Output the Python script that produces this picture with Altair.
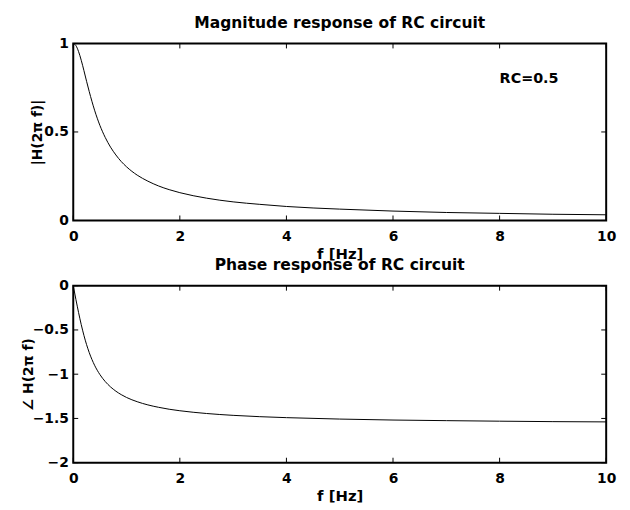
import altair as alt
import pandas as pd

# Frequency samples [Hz]
freq = [0, 0.05, 0.1, 0.15, 0.2, 0.25, 0.3, 0.4, 0.5, 0.6, 0.7, 0.8, 0.9, 1.0,
        1.2, 1.4, 1.6, 1.8, 2.0, 2.5, 3.0, 3.5, 4.0, 5.0, 6.0, 7.0, 8.0, 9.0, 10.0]
# |H(2 pi f)|
magnitude = [1.000, 0.988, 0.954, 0.905, 0.847, 0.786, 0.728, 0.623, 0.537, 0.469,
             0.414, 0.370, 0.333, 0.303, 0.256, 0.222, 0.195, 0.174, 0.157, 0.126,
             0.105, 0.091, 0.079, 0.064, 0.053, 0.045, 0.040, 0.035, 0.032]
# angle H(2 pi f)
phase = [0.000, -0.156, -0.304, -0.440, -0.561, -0.666, -0.756, -0.899, -1.004, -1.083,
         -1.144, -1.192, -1.231, -1.263, -1.311, -1.347, -1.374, -1.396, -1.413, -1.444,
         -1.465, -1.480, -1.491, -1.507, -1.518, -1.525, -1.531, -1.536, -1.539]

x_ticks = [0, 2, 4, 6, 8, 10]
mag_ticks = [0, 0.5, 1]
phase_ticks = [-2, -1.5, -1, -0.5, 0]

note_text = ["RC=0.5"]
note_f = [8]
note_mag = [0.8]

W, H = 539, 179
TL = 5  # inward tick length
FONT = "DejaVu Sans"

df = pd.DataFrame({"f": freq, "mag": magnitude, "phase": phase})


def panel(ycol, ydomain, yticks, title, ytitle, title_x):
    xs = alt.Scale(domain=[0, 10], nice=False, zero=False)
    ys = alt.Scale(domain=ydomain, nice=False, zero=False)
    xaxis = alt.Axis(values=x_ticks, title="f [Hz]", titleY=38, titleFontSize=15,
                     titleBaseline="alphabetic", labelPadding=20,
                     labelBaseline="alphabetic", format="d")
    yaxis = alt.Axis(values=yticks, title=ytitle, titleX=title_x,
                     titleBaseline="alphabetic", labelPadding=5, format=".1~f")
    X = alt.X("f:Q", scale=xs, axis=xaxis)
    Y = alt.Y(f"{ycol}:Q", scale=ys, axis=yaxis)

    line = alt.Chart(df).mark_line(color="black", strokeWidth=1,
                                   interpolate="monotone").encode(x=X, y=Y)

    xt = pd.DataFrame({"f": x_ticks})
    yt = pd.DataFrame({ycol: yticks})
    tb = alt.Chart(xt).mark_rule(color="black", strokeWidth=1).encode(
        x=X, y=alt.value(H), y2=alt.value(H - TL))
    tt = alt.Chart(xt).mark_rule(color="black", strokeWidth=1).encode(
        x=X, y=alt.value(0), y2=alt.value(TL))
    tl = alt.Chart(yt).mark_rule(color="black", strokeWidth=1).encode(
        y=Y, x=alt.value(0), x2=alt.value(TL))
    tr = alt.Chart(yt).mark_rule(color="black", strokeWidth=1).encode(
        y=Y, x=alt.value(W), x2=alt.value(W - TL))

    layers = [line, tb, tt, tl, tr]
    if ycol == "mag":
        nd = pd.DataFrame({"f": note_f, "mag": note_mag, "label": note_text})
        note = alt.Chart(nd).mark_text(align="left", baseline="middle",
                                       font=FONT, fontSize=14.5, fontWeight="bold",
                                       color="black").encode(x=X, y=Y, text="label:N")
        layers.append(note)

    return alt.layer(*layers).properties(
        width=W, height=H,
        title=alt.TitleParams(title, font=FONT, fontSize=15.7, fontWeight="bold",
                              color="black", baseline="alphabetic", offset=-7,
                              anchor="middle"),
    )


top = panel("mag", [0, 1], mag_ticks, "Magnitude response of RC circuit",
            "|H(2π f)|", -32)
bottom = panel("phase", [-2, 0], phase_ticks, "Phase response of RC circuit",
               "∠ H(2π f)", -41)

chart = alt.vconcat(top, bottom, spacing=66, bounds="flush").properties(
    padding={"left": 13, "top": 3, "right": 5, "bottom": 5},
    background="white",
).configure_view(
    stroke="black", strokeWidth=2
).configure_axis(
    grid=False, ticks=False, tickSize=0, domain=False,
    labelFont=FONT, labelFontSize=14, labelFontWeight="bold", labelColor="black",
    titleFont=FONT, titleFontSize=14, titleFontWeight="bold", titleColor="black",
    labelFlush=False, labelOverlap=False, labelBound=False,
)

chart.save("out.html", embed_options={"renderer": "svg", "actions": False})
